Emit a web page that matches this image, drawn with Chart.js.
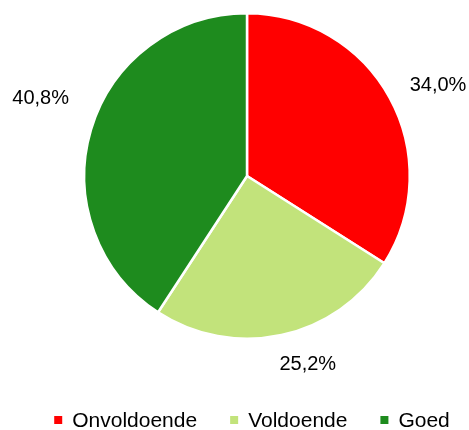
<!DOCTYPE html>
<html>
<head>
<meta charset="utf-8">
<script src="https://cdn.jsdelivr.net/npm/chart.js@4.4.1/dist/chart.umd.min.js"></script>
<style>
html,body{margin:0;padding:0;background:#fff;}
#wrap{width:469px;height:430px;position:relative;}
</style>
</head>
<body>
<div id="wrap"><canvas id="c" width="469" height="430"></canvas></div>
<script>
const categories = ["Onvoldoende", "Voldoende", "Goed"];
const values = [34.0, 25.2, 40.8];
const valueLabels = ["34,0%", "25,2%", "40,8%"];
const colors = ["#FF0000", "#C2E37B", "#1E8B1E"];

const FONT = "Liberation Sans, Arial, sans-serif";

const outsideLabels = {
  id: "outsideLabels",
  afterDatasetsDraw(chart, args, opts) {
    const ctx = chart.ctx;
    const meta = chart.getDatasetMeta(0);
    ctx.save();
    ctx.font = "20px " + FONT;
    ctx.fillStyle = "#000";
    ctx.textAlign = "center";
    ctx.textBaseline = "middle";
    meta.data.forEach((arc, i) => {
      const p = arc.getProps(["x", "y", "startAngle", "endAngle", "outerRadius"], true);
      const mid = (p.startAngle + p.endAngle) / 2;
      const ux = Math.cos(mid), uy = Math.sin(mid);
      const gap = 20;
      const text = valueLabels[i];
      const w = ctx.measureText(text).width;
      const h = 20;
      const n = opts.nudge[i];
      const px = p.x + ux * (p.outerRadius + gap) + ux * w / 2 + n[0];
      const py = p.y + uy * (p.outerRadius + gap) + uy * h / 2 + n[1];
      ctx.fillText(text, px, py);
    });
    ctx.restore();
  }
};

const customLegend = {
  id: "customLegend",
  afterDraw(chart) {
    const ctx = chart.ctx;
    ctx.save();
    ctx.font = "21px " + FONT;
    ctx.textBaseline = "middle";
    ctx.textAlign = "left";
    const box = 8, boxGap = 10, itemGap = 33;
    const widths = categories.map(t => box + boxGap + ctx.measureText(t).width);
    const total = widths.reduce((a, b) => a + b, 0) + itemGap * (categories.length - 1);
    let x = 252 - total / 2;
    const y = 420;
    categories.forEach((t, i) => {
      ctx.fillStyle = colors[i];
      ctx.fillRect(x, y - box / 2, box, box);
      ctx.fillStyle = "#000";
      ctx.fillText(t, x + box + boxGap, y + 1);
      x += widths[i] + itemGap;
    });
    ctx.restore();
  }
};

new Chart(document.getElementById("c"), {
  type: "pie",
  data: {
    labels: categories,
    datasets: [{
      data: values,
      backgroundColor: colors,
      borderColor: "#FFFFFF",
      borderWidth: 2.5
    }]
  },
  options: {
    responsive: false,
    animation: false,
    layout: { padding: { top: 12, left: 25, right: 0, bottom: 90 } },
    plugins: {
      legend: { display: false },
      tooltip: { enabled: false },
      outsideLabels: { nudge: [[6, 2], [16, 0], [-4, -23]] }
    }
  },
  plugins: [outsideLabels, customLegend]
});
</script>
</body>
</html>
